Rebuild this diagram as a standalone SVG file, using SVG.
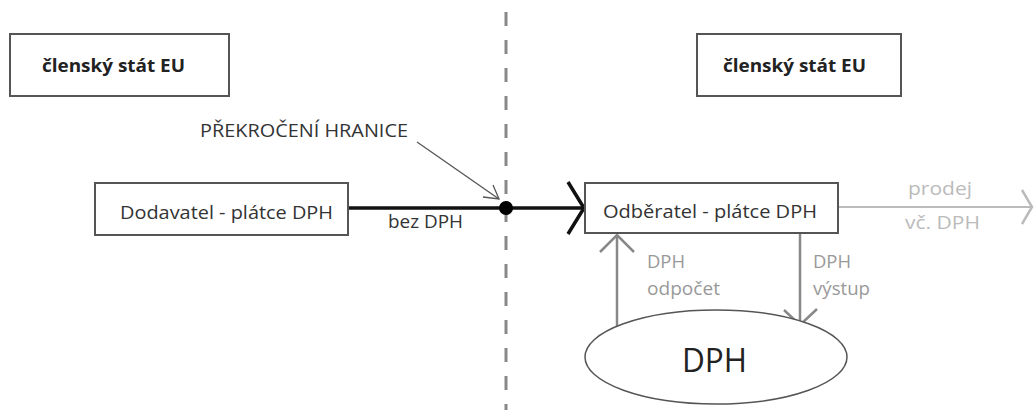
<svg xmlns="http://www.w3.org/2000/svg" width="1035" height="410" viewBox="0 0 1035 410">
<style>
.box{fill:#fff;stroke:#555;stroke-width:2}
.t{font-family:"Open Sans","Liberation Sans",sans-serif;font-size:19px;fill:#333}
.b{font-weight:bold;font-size:18px;fill:#222}
.g{fill:#999}
.lg{fill:#bbb}
</style>
<rect width="1035" height="410" fill="#fff"/>
<g id="connectors">
<line x1="506" y1="0" x2="506" y2="410" stroke="#888" stroke-width="3" stroke-dasharray="14 14" stroke-dashoffset="-12"/>
<line x1="348" y1="208" x2="583" y2="208" stroke="#111" stroke-width="3.5"/>
<polyline points="568,182 584,208 568,234" fill="none" stroke="#111" stroke-width="3.5"/>
<circle cx="506" cy="208" r="7" fill="#000"/>
<line x1="417" y1="142" x2="499" y2="199" stroke="#555" stroke-width="1.3"/>
<polyline points="483,197 499,199 493,185" fill="none" stroke="#555" stroke-width="1.3"/>
<line x1="838" y1="207" x2="1031" y2="207" stroke="#bbb" stroke-width="2"/>
<polyline points="1022,190 1032,207 1022,224" fill="none" stroke="#bbb" stroke-width="2.5"/>
<line x1="617" y1="328" x2="617" y2="235" stroke="#888" stroke-width="2.5"/>
<polyline points="600,252 617,235 634,252" fill="none" stroke="#888" stroke-width="2.5"/>
<line x1="800" y1="233" x2="800" y2="325" stroke="#888" stroke-width="2.5"/>
<polyline points="784,310 800,325 817,309" fill="none" stroke="#888" stroke-width="2.5"/>
<text class="t" x="388" y="228" textLength="75" lengthAdjust="spacingAndGlyphs">bez DPH</text>
<text class="t" x="200" y="137" style="font-size:18px" textLength="208" lengthAdjust="spacingAndGlyphs">PŘEKROČENÍ HRANICE</text>
<text class="t lg" x="908" y="195" textLength="64" lengthAdjust="spacingAndGlyphs">prodej</text>
<text class="t lg" x="905" y="229" textLength="75" lengthAdjust="spacingAndGlyphs">vč. DPH</text>
<text class="t g" x="647" y="268" textLength="38" lengthAdjust="spacingAndGlyphs">DPH</text>
<text class="t g" x="647" y="295" textLength="73" lengthAdjust="spacingAndGlyphs">odpočet</text>
<text class="t g" x="813" y="268" textLength="38" lengthAdjust="spacingAndGlyphs">DPH</text>
<text class="t g" x="813" y="295" textLength="57" lengthAdjust="spacingAndGlyphs">výstup</text>
</g>
<g id="stat-left">
<rect class="box" x="10" y="34" width="219" height="62"/>
<text class="t b" x="42" y="72" textLength="143" lengthAdjust="spacingAndGlyphs">členský stát EU</text>
</g>
<g id="stat-right">
<rect class="box" x="697" y="34" width="204" height="62"/>
<text class="t b" x="723" y="72" textLength="143" lengthAdjust="spacingAndGlyphs">členský stát EU</text>
</g>
<g id="dodavatel">
<rect class="box" x="95" y="183" width="253" height="52"/>
<text class="t" x="120" y="219" textLength="213" lengthAdjust="spacingAndGlyphs">Dodavatel - plátce DPH</text>
</g>
<g id="odberatel">
<rect class="box" x="585" y="183" width="253" height="50"/>
<text class="t" x="603" y="218" textLength="214" lengthAdjust="spacingAndGlyphs">Odběratel - plátce DPH</text>
</g>
<g id="dph">
<ellipse cx="716" cy="357" rx="131" ry="47" fill="#fff" stroke="#555" stroke-width="1.5"/>
<text class="t" x="682" y="372" style="font-size:32px;fill:#222" textLength="65" lengthAdjust="spacingAndGlyphs">DPH</text>
</g>
</svg>
